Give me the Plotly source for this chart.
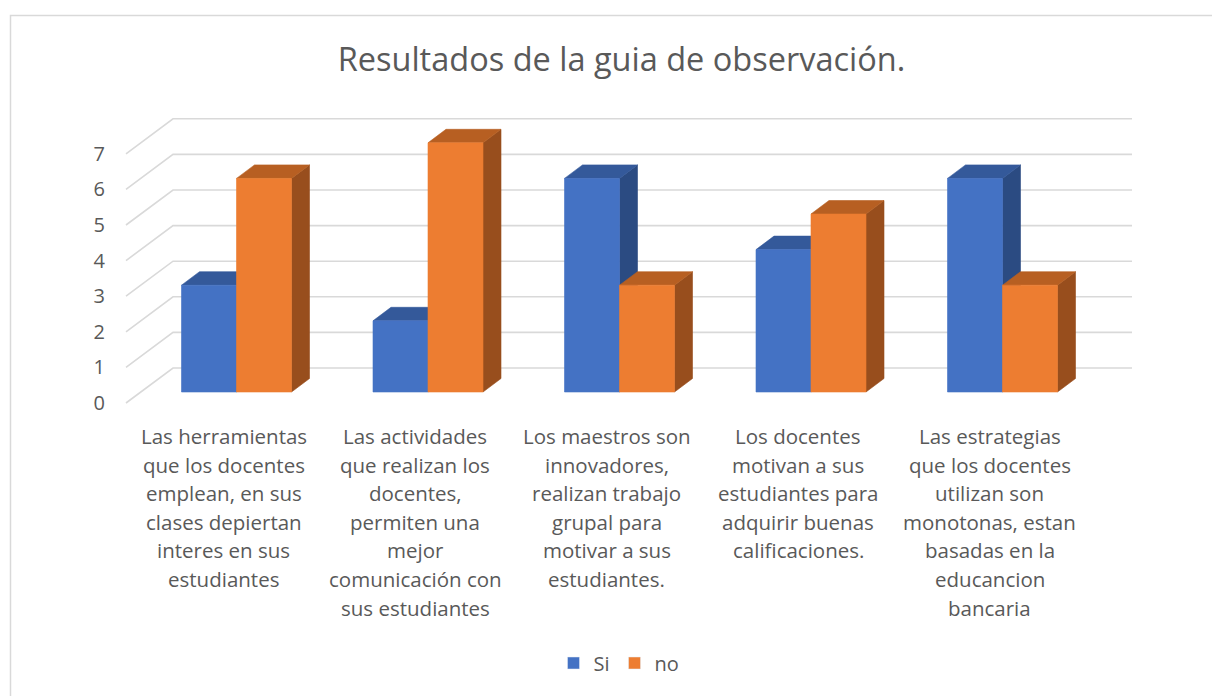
import plotly.graph_objects as go

# ---------------- data ----------------
categories = [
    "Las herramientas<br>que los docentes<br>emplean, en sus<br>clases depiertan<br>interes en sus<br>estudiantes",
    "Las actividades<br>que realizan los<br>docentes,<br>permiten una<br>mejor<br>comunicación con<br>sus estudiantes",
    "Los maestros son<br>innovadores,<br>realizan trabajo<br>grupal para<br>motivar a sus<br>estudiantes.",
    "Los docentes<br>motivan a sus<br>estudiantes para<br>adquirir buenas<br>calificaciones.",
    "Las estrategias<br>que los docentes<br>utilizan son<br>monotonas, estan<br>basadas en la<br>educancion<br>bancaria",
]
series_names = ["Si", "no"]
si_values = [3, 2, 6, 4, 6]
no_values = [6, 7, 3, 5, 3]
y_ticks = [0, 1, 2, 3, 4, 5, 6, 7]
title_text = "Resultados de la guia de observación."

# ---------------- styling / geometry ----------------
W_PX, H_PX = 1212, 696
FONT = "Open Sans"
TXT = "#595959"
GRID = "#D9D9D9"
front_cols = ["#4472C4", "#ED7D31"]
top_cols = ["#34599A", "#B75F22"]
side_cols = ["#2B4B82", "#984E1D"]

XPX_PER_UNIT = 191.5   # pixels per category step
X0_PX = 236.5          # pixel of first group centre
YPX_PER_UNIT = 35.6    # pixels per value unit
Y0_PX = 403.0          # pixel of value 0 on the front plane
DOM_X0_PX = 106.0

BAR_W = 55 / XPX_PER_UNIT
BAR_BASE = 11 / YPX_PER_UNIT
DX = 18 / XPX_PER_UNIT
DY = 13.5 / YPX_PER_UNIT
WALL_DX = 47 / XPX_PER_UNIT
WALL_DY = 35 / YPX_PER_UNIT
GRID_X_START = (126 - X0_PX) / XPX_PER_UNIT
GRID_X_END = (1132 - X0_PX) / XPX_PER_UNIT
LABEL_SHIFT = -13 / XPX_PER_UNIT

x_range = [(DOM_X0_PX - X0_PX) / XPX_PER_UNIT, (W_PX - X0_PX) / XPX_PER_UNIT]
y_range = [(Y0_PX - H_PX) / YPX_PER_UNIT, Y0_PX / YPX_PER_UNIT]

fig = go.Figure()

# gridlines (slanted side + back wall)
gx, gy = [], []
for v in y_ticks:
    gx += [GRID_X_START, GRID_X_START + WALL_DX, GRID_X_END, None]
    gy += [v, v + WALL_DY, v + WALL_DY, None]
fig.add_trace(go.Scatter(x=gx, y=gy, mode="lines", line=dict(color=GRID, width=1.6),
                         hoverinfo="skip", showlegend=False))

# 3D-looking bars
all_values = [si_values, no_values]
for s, vals in enumerate(all_values):
    fx, fy, tx, ty, sx, sy = [], [], [], [], [], []
    for i, v in enumerate(vals):
        xl = i - BAR_W + s * BAR_W
        xr = xl + BAR_W
        yb = BAR_BASE
        yt = BAR_BASE + v
        fx += [xl, xr, xr, xl, xl, None]
        fy += [yb, yb, yt, yt, yb, None]
        tx += [xl, xr, xr + DX, xl + DX, xl, None]
        ty += [yt, yt, yt + DY, yt + DY, yt, None]
        sx += [xr, xr + DX, xr + DX, xr, xr, None]
        sy += [yb, yb + DY, yt + DY, yt, yb, None]
    for xs, ys, col in [(sx, sy, side_cols[s]), (tx, ty, top_cols[s]), (fx, fy, front_cols[s])]:
        fig.add_trace(go.Scatter(x=xs, y=ys, mode="lines", fill="toself", fillcolor=col,
                                 line=dict(color=col, width=0.6), hoverinfo="skip",
                                 showlegend=False))

# legend entries
for s, name in enumerate(series_names):
    fig.add_trace(go.Bar(x=[None], y=[None], name=name, marker_color=front_cols[s]))

# category labels (one annotation per line for Excel-like line spacing)
LINE1_Y_PX = 436
LINE_STEP_PX = 28.6
for i, lab in enumerate(categories):
    for k, line in enumerate(lab.split("<br>")):
        ypx = LINE1_Y_PX + k * LINE_STEP_PX
        fig.add_annotation(x=i + LABEL_SHIFT, xref="x", y=1 - ypx / H_PX, yref="paper",
                           text=line, showarrow=False, xanchor="center", yanchor="middle",
                           font=dict(family=FONT, size=20.5, color=TXT))

# chart-area border (top & left visible)
fig.add_shape(type="rect", xref="paper", yref="paper",
              x0=10.5 / W_PX, x1=1.05,
              y0=-0.05, y1=1 - 15.5 / H_PX, line=dict(color=GRID, width=1.5), layer="below")

fig.update_layout(
    width=W_PX, height=H_PX,
    margin=dict(l=0, r=0, t=0, b=0),
    paper_bgcolor="white", plot_bgcolor="white",
    title=dict(text=title_text, x=621.5 / W_PX, xanchor="center", y=1 - 60 / H_PX, yanchor="middle",
               font=dict(family=FONT, size=32.5, color=TXT)),
    xaxis=dict(domain=[DOM_X0_PX / W_PX, 1], range=x_range, showgrid=False, zeroline=False,
               showline=False, showticklabels=False, fixedrange=True),
    yaxis=dict(domain=[0, 1], range=y_range, tickvals=y_ticks, ticktext=[str(t) for t in y_ticks],
               showgrid=False, zeroline=False, showline=False, ticks="",
               tickfont=dict(family=FONT, size=20, color=TXT), fixedrange=True),
    legend=dict(orientation="h", x=0.5 + 13 / W_PX, xanchor="center", y=1 - 663 / H_PX,
                yanchor="middle", font=dict(family=FONT, size=20, color=TXT), itemwidth=30,
                bgcolor="rgba(0,0,0,0)"),
    showlegend=True,
)

fig.write_html("out.html", config={"displayModeBar": False},
               post_script="document.body.style.margin='0';document.body.style.overflow='hidden';")
